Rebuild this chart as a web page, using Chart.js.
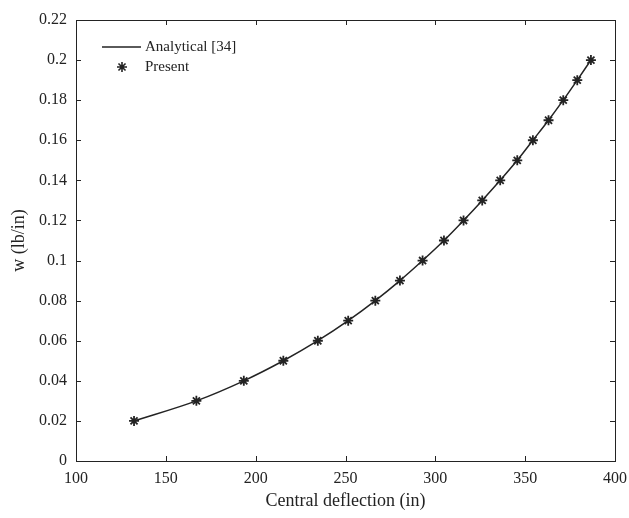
<!DOCTYPE html>
<html>
<head>
<meta charset="utf-8">
<script src="https://cdn.jsdelivr.net/npm/chart.js@4.4.1/dist/chart.umd.min.js"></script>
<style>
  html, body { margin: 0; padding: 0; background: #fff; }
  #wrap { width: 629px; height: 518px; }
</style>
</head>
<body>
<div id="wrap"><canvas id="c" width="629" height="518"></canvas></div>
<script>
// Central deflection (in) for each load level
const deflection = [132.3, 167.0, 193.4, 215.4, 234.6, 251.5, 266.6, 280.3, 292.9, 304.8,
                    315.7, 326.1, 336.1, 345.6, 354.3, 363.0, 371.2, 379.0, 386.6];
// Load w (lb/in)
const load = [0.02, 0.03, 0.04, 0.05, 0.06, 0.07, 0.08, 0.09, 0.10, 0.11,
              0.12, 0.13, 0.14, 0.15, 0.16, 0.17, 0.18, 0.19, 0.20];
const xTickLabels = ['100', '150', '200', '250', '300', '350', '400'];
const yTickLabels = ['0', '0.02', '0.04', '0.06', '0.08', '0.1', '0.12', '0.14', '0.16', '0.18', '0.2', '0.22'];
const seriesNames = ['Analytical [34]', 'Present'];

const INK = '#232323';
const FONT = "'Liberation Serif', 'Times New Roman', serif";

const pts = deflection.map((x, i) => ({ x: x, y: load[i] }));

const framePlugin = {
  id: 'frame',
  afterDraw(chart) {
    const ctx = chart.ctx;
    const a = chart.chartArea;
    const xs = chart.scales.x, ys = chart.scales.y;
    ctx.save();
    ctx.strokeStyle = INK;
    ctx.lineWidth = 1;
    ctx.strokeRect(Math.round(a.left) + 0.5, Math.round(a.top) + 0.5,
                   Math.round(a.right - a.left), Math.round(a.bottom - a.top));
    const tl = 5;
    ctx.beginPath();
    xs.ticks.forEach(t => {
      const px = Math.round(xs.getPixelForValue(t.value)) + 0.5;
      ctx.moveTo(px, a.bottom); ctx.lineTo(px, a.bottom - tl);
      ctx.moveTo(px, a.top); ctx.lineTo(px, a.top + tl);
    });
    ys.ticks.forEach(t => {
      const py = Math.round(ys.getPixelForValue(t.value)) + 0.5;
      ctx.moveTo(a.left, py); ctx.lineTo(a.left + tl, py);
      ctx.moveTo(a.right, py); ctx.lineTo(a.right - tl, py);
    });
    ctx.stroke();

    // legend
    const lx = a.left + 26, ly = a.top + 27;
    ctx.lineWidth = 1.6;
    ctx.beginPath();
    ctx.moveTo(lx, ly); ctx.lineTo(lx + 39, ly);
    ctx.stroke();
    ctx.fillStyle = INK;
    ctx.font = "15px " + FONT;
    ctx.textBaseline = 'middle';
    ctx.textAlign = 'left';
    ctx.fillText(seriesNames[0], lx + 43, ly);
    Chart.helpers.drawPoint(ctx, { pointStyle: 'star', radius: 5, rotation: 0, borderWidth: 1.8 }, lx + 20, ly + 20);
    ctx.fillText(seriesNames[1], lx + 43, ly + 20);
    ctx.restore();
  }
};

new Chart(document.getElementById('c'), {
  type: 'scatter',
  data: {
    datasets: [
      {
        label: seriesNames[0],
        data: pts,
        showLine: true,
        borderColor: INK,
        borderWidth: 1.5,
        pointRadius: 0,
        cubicInterpolationMode: 'monotone',
        fill: false,
        order: 2
      },
      {
        label: seriesNames[1],
        data: pts,
        showLine: false,
        pointStyle: 'star',
        pointRadius: 5,
        pointBorderWidth: 1.8,
        borderColor: INK,
        backgroundColor: INK,
        order: 1
      }
    ]
  },
  options: {
    responsive: false,
    animation: false,
    layout: { padding: { left: 0, top: 20, right: 14, bottom: 0 } },
    plugins: { legend: { display: false }, tooltip: { enabled: false } },
    scales: {
      x: {
        type: 'linear',
        min: 100, max: 400,
        grid: { display: false, drawTicks: false },
        border: { display: false },
        afterBuildTicks(s) { s.ticks = xTickLabels.map(v => ({ value: Number(v) })); },
        ticks: {
          color: INK, padding: 8,
          font: { family: FONT, size: 16 },
          maxRotation: 0,
          callback: (v, i) => xTickLabels[i]
        },
        title: {
          display: true, text: 'Central deflection (in)', color: INK,
          font: { family: FONT, size: 18 }, padding: { top: 0, bottom: 6 }
        },
        afterFit(s) { s.height = 57; s.paddingLeft = 0; s.paddingRight = 0; }
      },
      y: {
        type: 'linear',
        min: 0, max: 0.22,
        grid: { display: false, drawTicks: false },
        border: { display: false },
        afterBuildTicks(s) { s.ticks = yTickLabels.map(v => ({ value: Number(v) })); },
        ticks: {
          color: INK, padding: 9,
          font: { family: FONT, size: 16 },
          callback: (v, i) => yTickLabels[i]
        },
        title: {
          display: true, text: 'w (lb/in)', color: INK,
          font: { family: FONT, size: 18 }, padding: { top: 8, bottom: 0 }
        },
        afterFit(s) { s.width = 76; s.paddingTop = 0; s.paddingBottom = 0; }
      }
    }
  },
  plugins: [framePlugin]
});
</script>
</body>
</html>
